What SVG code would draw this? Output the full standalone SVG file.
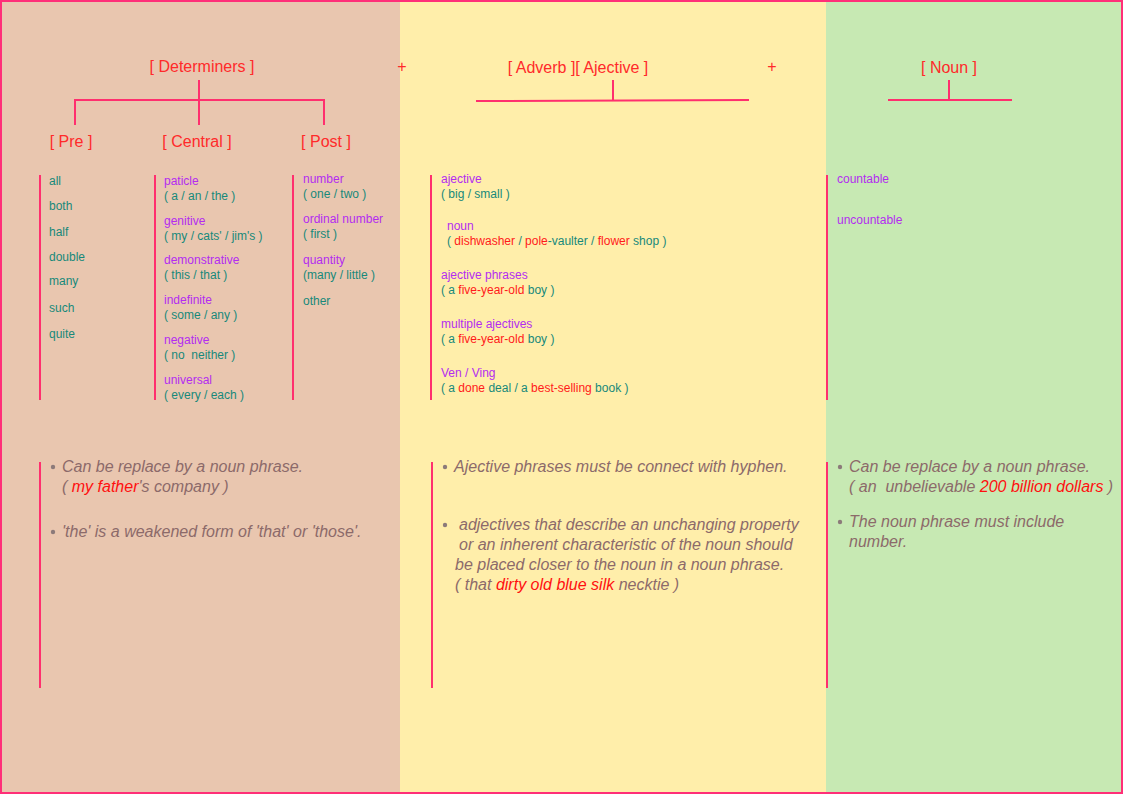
<svg xmlns="http://www.w3.org/2000/svg" width="1123" height="794" viewBox="0 0 1123 794">
<style>
.h{font-family:"Liberation Sans",Arial,sans-serif;font-size:16px;fill:#ff2a2a}
.t{font-family:"Liberation Sans",Arial,sans-serif;font-size:12px}
.p{fill:#b32cf0}
.g{fill:#17897a}
.r{fill:#ff1a1a}
.n{font-family:"Liberation Sans",Arial,sans-serif;font-size:16px;font-style:italic;fill:#8c6a6a}
.nr{fill:#ff1010}
.ln{stroke:#ff2f6e;stroke-width:2;fill:none}
.bar{stroke:#ff2f6e;stroke-width:2}
.dot{fill:#8c7a7a}
.pre{white-space:pre}
</style>
<g id="background">
<rect x="0" y="0" width="400" height="794" fill="#e9c6af"/>
<rect x="400" y="0" width="426" height="794" fill="#ffeeaa"/>
<rect x="826" y="0" width="297" height="794" fill="#c7e9b3"/>
<rect x="1" y="1" width="1121" height="792" fill="none" stroke="#ff2f78" stroke-width="2"/>
</g>
<g id="connectors">
<path class="ln" d="M199 80V125M75 125V100H324V125"/>
<path class="ln" d="M613 80V100M476 101L749 100"/>
<path class="ln" d="M949 80V100M888 100H1012"/>
<line class="bar" x1="40" y1="175" x2="40" y2="400"/>
<line class="bar" x1="155" y1="175" x2="155" y2="400"/>
<line class="bar" x1="293" y1="175" x2="293" y2="400"/>
<line class="bar" x1="431" y1="175" x2="431" y2="400"/>
<line class="bar" x1="827" y1="175" x2="827" y2="400"/>
<line class="bar" x1="40" y1="462" x2="40" y2="688"/>
<line class="bar" x1="432" y1="462" x2="432" y2="688"/>
<line class="bar" x1="827" y1="462" x2="827" y2="688"/>
</g>
<g id="determiners"><text class="h" x="202" y="72" text-anchor="middle">[ Determiners ]</text></g>
<g id="pre"><text class="h" x="71" y="147" text-anchor="middle">[ Pre ]</text></g>
<g id="central"><text class="h" x="197" y="147" text-anchor="middle">[ Central ]</text></g>
<g id="post"><text class="h" x="326" y="147" text-anchor="middle">[ Post ]</text></g>
<g id="plus1"><text class="h" x="402" y="72" text-anchor="middle">+</text></g>
<g id="adj"><text class="h" x="578" y="73" text-anchor="middle">[ Adverb ][ Ajective ]</text></g>
<g id="plus2"><text class="h" x="772" y="72" text-anchor="middle">+</text></g>
<g id="noun"><text class="h" x="949" y="73" text-anchor="middle">[ Noun ]</text></g>
<g id="pre-list" class="t g">
<text x="49" y="185">all</text>
<text x="49" y="210">both</text>
<text x="49" y="236">half</text>
<text x="49" y="261">double</text>
<text x="49" y="285">many</text>
<text x="49" y="312">such</text>
<text x="49" y="338">quite</text>
</g>
<g id="central-list" class="t">
<text x="164" y="185" class="p">paticle</text>
<text x="164" y="200" class="g">( a / an / the )</text>
<text x="164" y="225" class="p">genitive</text>
<text x="164" y="240" class="g">( my / cats' / jim's )</text>
<text x="164" y="264" class="p">demonstrative</text>
<text x="164" y="279" class="g">( this / that )</text>
<text x="164" y="304" class="p">indefinite</text>
<text x="164" y="319" class="g">( some / any )</text>
<text x="164" y="344" class="p">negative</text>
<text x="164" y="359" class="g pre">( no  neither )</text>
<text x="164" y="384" class="p">universal</text>
<text x="164" y="399" class="g">( every / each )</text>
</g>
<g id="post-list" class="t">
<text x="303" y="183" class="p">number</text>
<text x="303" y="198" class="g">( one / two )</text>
<text x="303" y="223" class="p">ordinal number</text>
<text x="303" y="238" class="g">( first )</text>
<text x="303" y="264" class="p">quantity</text>
<text x="303" y="279" class="g">(many / little )</text>
<text x="303" y="305" class="g">other</text>
</g>
<g id="adj-list" class="t">
<text x="441" y="183" class="p">ajective</text>
<text x="441" y="198" class="g">( big / small )</text>
<text x="447" y="230" class="p">noun</text>
<text x="447" y="245" class="g">( <tspan class="r">dishwasher</tspan> / <tspan class="r">pole</tspan>-vaulter / <tspan class="r">flower</tspan> shop )</text>
<text x="441" y="279" class="p">ajective phrases</text>
<text x="441" y="294" class="g">( a <tspan class="r">five-year-old</tspan> boy )</text>
<text x="441" y="328" class="p">multiple ajectives</text>
<text x="441" y="343" class="g">( a <tspan class="r">five-year-old</tspan> boy )</text>
<text x="441" y="377" class="p">Ven / Ving</text>
<text x="441" y="392" class="g">( a <tspan class="r">done</tspan> deal / a <tspan class="r">best-selling</tspan> book )</text>
</g>
<g id="noun-list" class="t p">
<text x="837" y="183">countable</text>
<text x="837" y="224">uncountable</text>
</g>
<g id="det-notes" class="n">
<circle class="dot" cx="53" cy="467" r="2.2"/>
<text x="62" y="472">Can be replace by a noun phrase.</text>
<text x="62" y="492">( <tspan class="nr">my father</tspan>'s company )</text>
<circle class="dot" cx="53" cy="532" r="2.2"/>
<text x="62" y="537">'the' is a weakened form of 'that' or 'those'.</text>
</g>
<g id="adj-notes" class="n">
<circle class="dot" cx="445" cy="467" r="2.2"/>
<text x="454" y="472">Ajective phrases must be connect with hyphen.</text>
<circle class="dot" cx="445" cy="525" r="2.2"/>
<text x="459" y="530">adjectives that describe an unchanging property</text>
<text x="459" y="550">or an inherent characteristic of the noun should</text>
<text x="455" y="570">be placed closer to the noun in a noun phrase.</text>
<text x="455" y="590">( that <tspan class="nr">dirty old blue silk</tspan> necktie )</text>
</g>
<g id="noun-notes" class="n">
<circle class="dot" cx="840" cy="467" r="2.2"/>
<text x="849" y="472">Can be replace by a noun phrase.</text>
<text x="849" y="492" class="pre">( an  unbelievable <tspan class="nr">200 billion dollars</tspan> )</text>
<circle class="dot" cx="840" cy="522" r="2.2"/>
<text x="849" y="527">The noun phrase must include</text>
<text x="849" y="547">number.</text>
</g>
</svg>
